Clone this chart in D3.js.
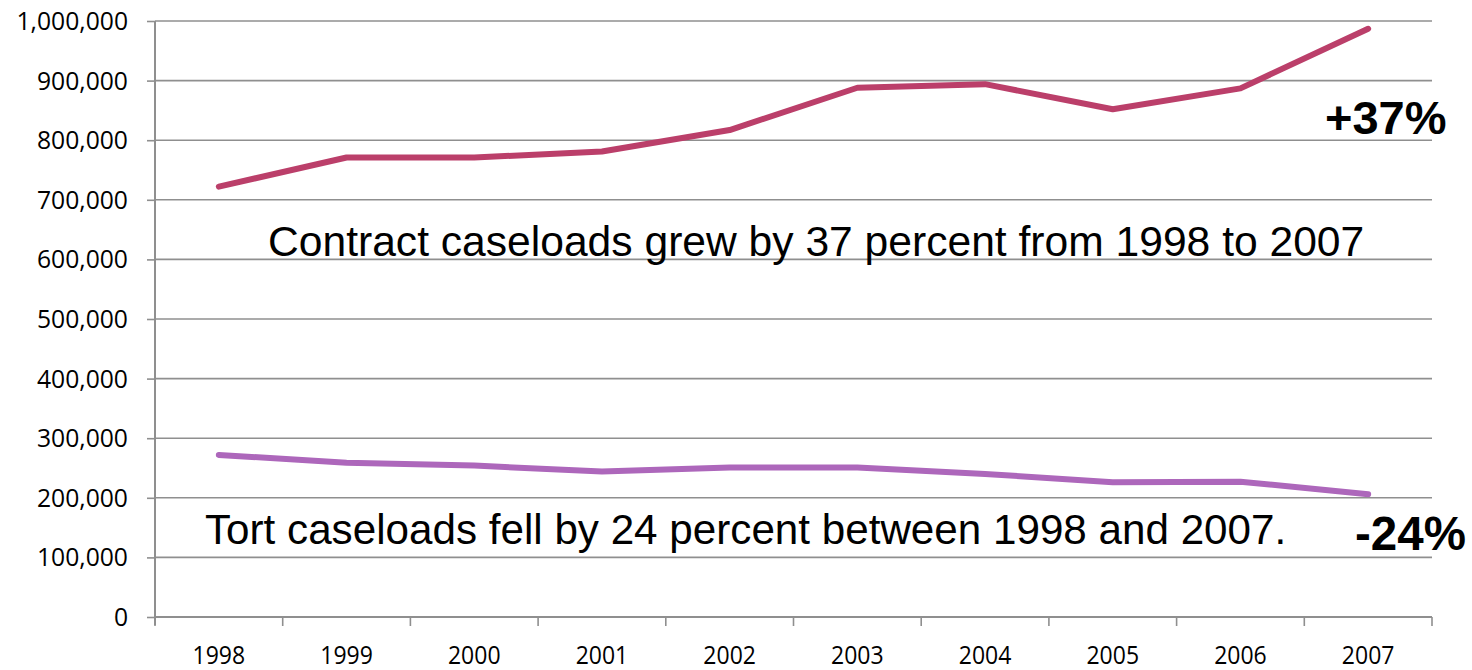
<!DOCTYPE html>
<html>
<head>
<meta charset="utf-8">
<script src="https://cdn.jsdelivr.net/npm/d3@7"></script>
<style>
  html, body { margin: 0; padding: 0; background: #fff; }
  svg { display: block; }
</style>
</head>
<body>
<svg id="chart" width="1472" height="670"></svg>
<script>
const years = ["1998","1999","2000","2001","2002","2003","2004","2005","2006","2007"];
const contractValues = [722000, 771000, 771000, 781000, 817000, 888000, 894000, 852000, 887000, 987000];
const tortValues = [272000, 259000, 254000, 244000, 251000, 251000, 240000, 226000, 227000, 206000];
const yTicks = [0,100000,200000,300000,400000,500000,600000,700000,800000,900000,1000000];
const contractNote = "Contract caseloads grew by 37 percent from 1998 to 2007";
const tortNote = "Tort caseloads fell by 24 percent between 1998 and 2007.";
const contractPct = "+37%";
const tortPct = "-24%";

(function(){
const svg = d3.select("#chart");
const pLeft = 155, pRight = 1432, pTop = 21, pBottom = 617;

const x = d3.scaleBand().domain(years).range([pLeft, pRight]).paddingInner(0).paddingOuter(0);
const y = d3.scaleLinear().domain([0, 1000000]).range([pBottom, pTop]);
const fmt = d3.format(",");

const gridColor = "#8f8f8f";
const tickFont = "'Open Sans', 'Noto Sans', sans-serif";

// gridlines
svg.append("g").selectAll("line").data(yTicks.filter(d => d > 0)).join("line")
  .attr("x1", pLeft).attr("x2", pRight)
  .attr("y1", d => y(d)).attr("y2", d => y(d))
  .attr("stroke", gridColor).attr("stroke-width", 1.6);

// y axis
const yAxis = d3.axisLeft(y).tickValues(yTicks).tickFormat(fmt).tickSize(8).tickPadding(19);
const gy = svg.append("g").attr("transform", `translate(${pLeft},0)`).call(yAxis);
gy.select(".domain").attr("stroke", gridColor).attr("stroke-width", 2)
  .attr("d", `M0,${pTop}V${pBottom + 8}`);
gy.selectAll(".tick line").attr("stroke", gridColor).attr("stroke-width", 1.6);
gy.selectAll(".tick text").attr("font-family", tickFont).attr("font-size", 24.7).attr("fill", "#000")
  .attr("dy", "0.34em");

// x axis
const xAxis = d3.axisBottom(x).tickSize(0).tickPadding(29);
const gx = svg.append("g").attr("transform", `translate(0,${pBottom})`).call(xAxis);
gx.select(".domain").attr("stroke", gridColor).attr("stroke-width", 2).attr("d", `M${pLeft},0H${pRight}`);
gx.selectAll(".tick text").attr("font-family", tickFont).attr("font-size", 25).attr("fill", "#000")
  .attr("transform", "scale(0.92,1)");

// category boundary ticks
const bounds = years.map(d => x(d)).concat([pRight]);
svg.append("g").selectAll("line").data(bounds).join("line")
  .attr("x1", d => d).attr("x2", d => d)
  .attr("y1", pBottom).attr("y2", pBottom + 9)
  .attr("stroke", gridColor).attr("stroke-width", 1.6);

// lines
const line = d3.line().x((d, i) => x(years[i]) + x.bandwidth()/2).y(d => y(d));
svg.append("path").datum(contractValues).attr("d", line)
  .attr("fill", "none").attr("stroke", "#bb3f6a").attr("stroke-width", 6)
  .attr("stroke-linecap", "round").attr("stroke-linejoin", "round");
svg.append("path").datum(tortValues).attr("d", line)
  .attr("fill", "none").attr("stroke", "#ad67bb").attr("stroke-width", 6)
  .attr("stroke-linecap", "round").attr("stroke-linejoin", "round");

// annotations
const annFont = "'Liberation Sans', Arial, sans-serif";
svg.append("text").attr("x", 268).attr("y", 256).text(contractNote)
  .attr("font-family", annFont).attr("font-size", 42.6).attr("fill", "#000");
svg.append("text").attr("x", 205).attr("y", 544).text(tortNote)
  .attr("font-family", annFont).attr("font-size", 42.2).attr("fill", "#000");
svg.append("text").attr("x", 1325).attr("y", 134).text(contractPct)
  .attr("font-family", annFont).attr("font-size", 47).attr("font-weight", "bold").attr("fill", "#000");
svg.append("text").attr("x", 1355).attr("y", 550).text(tortPct)
  .attr("font-family", annFont).attr("font-size", 47.5).attr("font-weight", "bold").attr("fill", "#000");
})();
</script>
</body>
</html>
